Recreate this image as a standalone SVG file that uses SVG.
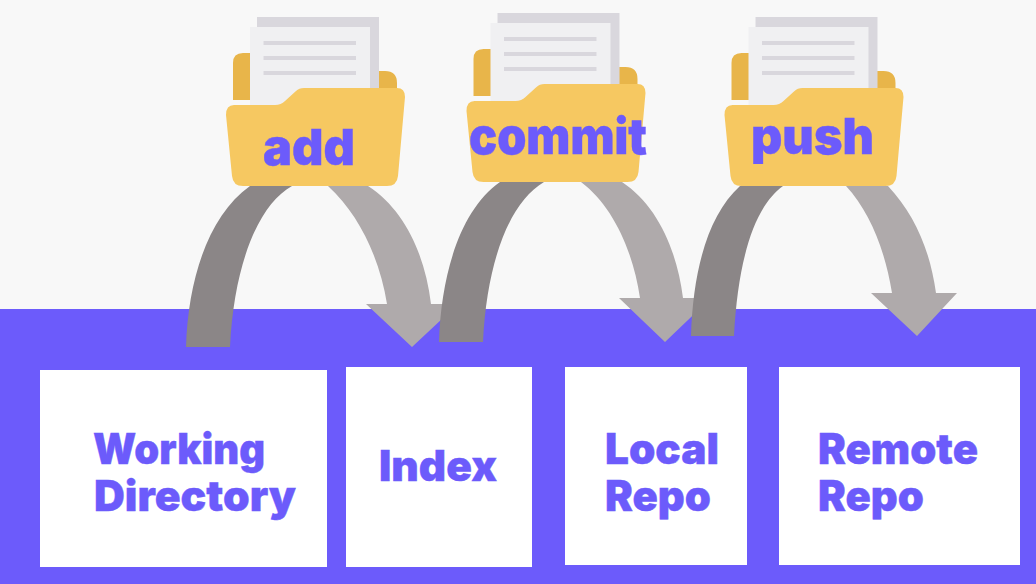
<svg xmlns="http://www.w3.org/2000/svg" xmlns:xlink="http://www.w3.org/1999/xlink" width="1036" height="584" viewBox="0 0 1036 584">
<style>
.lbl{font-family:"Inter","Roboto","Liberation Sans",sans-serif;font-weight:900;fill:#6c5bfb;stroke:#6c5bfb;stroke-width:.4}
.box{fill:#fff}
.dark{fill:#8b8687}
.light{fill:#afaaab}
</style>
<defs>
<g id="folder">
<path d="M233 105V63Q233 53 243 53H255V71H385Q397 71 397 83V100H233Z" fill="#e8b54a"/>
<rect x="257" y="17" width="122" height="75" fill="#d9d7dd"/>
<rect x="250" y="27" width="120" height="85" fill="#f0f0f2"/>
<path d="M263.500 43H356M263.500 58H356M263.500 73H356" stroke="#d9d7dd" stroke-width="4" fill="none"/>
<path d="M234 105H275Q281 105 285 101L296 91Q299 88 304 88H397Q405 88 405 97L398 176Q397 186 387 186H243Q233 186 232 176L226 115Q226 105 234 105Z" fill="#f6c861"/>
</g>
</defs>
<rect width="1036" height="584" fill="#f8f8f8"/>
<rect y="309" width="1036" height="275" fill="#6c5bfb"/>
<g id="connectors">
<path class="light" d="M328 186C360 215 380 260 387 304H366L412 347L458 304H431C425 255 405 210 368 186Z"/>
<path class="dark" d="M186 347C188 280 208 216 250 186H292C258 205 234 265 230 347Z"/>
<path class="light" d="M581 182C612 205 633 250 640 298H619L665 342L711 298H683C677 250 657 205 622 182Z"/>
<path class="dark" d="M439 342C441 275 460 210 500 182H544C510 202 487 260 483 342Z"/>
<path class="light" d="M846 186C870 212 885 250 892 293H871L917 336L957 293H936C930 250 915 215 888 186Z"/>
<path class="dark" d="M691 336C693 270 708 215 740 186H783C754 207 738 260 734 336Z"/>
</g>
<g id="add"><use xlink:href="#folder" href="#folder"/><text class="lbl" x="263" y="165" font-size="50" textLength="92" lengthAdjust="spacingAndGlyphs">add</text></g>
<g id="commit"><use xlink:href="#folder" href="#folder" transform="translate(240.500,-4)"/><text class="lbl" x="469" y="154" font-size="50" textLength="178" lengthAdjust="spacingAndGlyphs">commit</text></g>
<g id="push"><use xlink:href="#folder" href="#folder" transform="translate(498.500,0)"/><text class="lbl" x="751" y="154" font-size="50" textLength="123" lengthAdjust="spacingAndGlyphs">push</text></g>
<g id="working-directory"><rect class="box" x="40" y="370" width="287" height="197"/><text class="lbl" x="93" y="464" font-size="42" textLength="172" lengthAdjust="spacingAndGlyphs">Working</text><text class="lbl" x="94" y="511" font-size="42" textLength="202" lengthAdjust="spacingAndGlyphs">Directory</text></g>
<g id="index"><rect class="box" x="346" y="367" width="186" height="200"/><text class="lbl" x="379" y="481" font-size="42" textLength="118" lengthAdjust="spacingAndGlyphs">Index</text></g>
<g id="local-repo"><rect class="box" x="565" y="367" width="182" height="198"/><text class="lbl" x="605" y="464" font-size="42" textLength="114" lengthAdjust="spacingAndGlyphs">Local</text><text class="lbl" x="605" y="511" font-size="42" textLength="106" lengthAdjust="spacingAndGlyphs">Repo</text></g>
<g id="remote-repo"><rect class="box" x="779" y="367" width="241" height="198"/><text class="lbl" x="818" y="464" font-size="42" textLength="160" lengthAdjust="spacingAndGlyphs">Remote</text><text class="lbl" x="818" y="511" font-size="42" textLength="106" lengthAdjust="spacingAndGlyphs">Repo</text></g>
</svg>
